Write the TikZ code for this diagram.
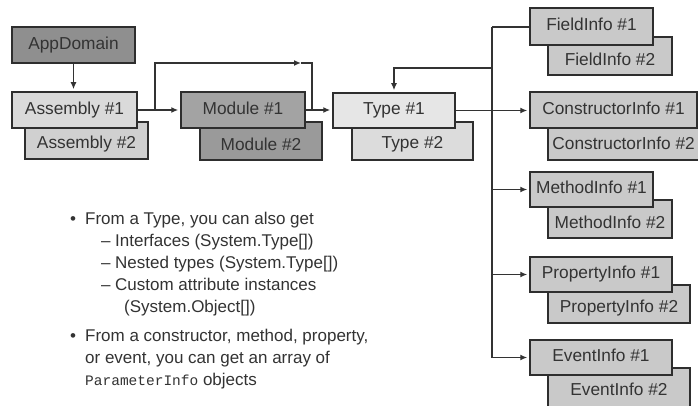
\documentclass[tikz,border=0pt]{standalone}
\usepackage{fontspec}
\setmainfont{Liberation Sans}
\newfontfamily\pmono{Liberation Mono}
\usetikzlibrary{arrows.meta}
\definecolor{ink}{HTML}{333333}
\definecolor{edge}{HTML}{2E2E2E}
\definecolor{appfill}{HTML}{8F8F8F}
\definecolor{modfillA}{HTML}{A3A3A3}
\definecolor{modfillB}{HTML}{9A9A9A}
\definecolor{asmfillA}{HTML}{DADADA}
\definecolor{asmfillB}{HTML}{D0D0D0}
\definecolor{typfillA}{HTML}{E6E6E6}
\definecolor{typfillB}{HTML}{DCDCDC}
\definecolor{infofill}{HTML}{C9C9C9}
\begin{document}
\begin{tikzpicture}[x=1pt,y=-1pt,
  box/.style={draw=edge, line width=1.5pt, inner sep=0pt, text=ink,
    font=\fontsize{17.3}{20}\selectfont, text height=12pt, text depth=3.5pt},
  lbl/.style={inner sep=0pt, text=ink, font=\fontsize{17.3}{20}\selectfont},
  conn/.style={draw=ink, line width=1.3pt},
  arr/.style={conn, -{Latex[length=7pt,width=6pt]}, shorten >=2pt},
  txt/.style={inner sep=0pt, anchor=base west, text=ink, font=\fontsize{17}{22}\selectfont}]
\useasboundingbox (0,0) rectangle (698,406);
\fill[white] (0,0) rectangle (698,406);

% left column
\node[box, fill=appfill, minimum width=123pt, minimum height=36pt] (app) at (73.5,45) {AppDomain};
\node[box, fill=asmfillB, minimum width=123pt, minimum height=37pt] (a2) at (86.5,140.5) {};
\node[lbl] (a2t) at ([yshift=16pt]a2.south) {Assembly \#2};
\node[box, fill=asmfillA, minimum width=125pt, minimum height=36pt] (a1) at (74.5,110) {Assembly \#1};

\node[box, fill=modfillB, minimum width=122pt, minimum height=38pt] (m2) at (261,141) {};
\node[lbl] (m2t) at ([yshift=16pt]m2.south) {Module \#2};
\node[box, fill=modfillA, minimum width=124pt, minimum height=36pt] (m1) at (243,110) {Module \#1};

\node[box, fill=typfillB, minimum width=121pt, minimum height=38pt] (t2) at (412.5,141) {};
\node[lbl] (t2t) at ([yshift=16pt]t2.south) {Type \#2};
\node[box, fill=typfillA, minimum width=122pt, minimum height=35pt] (t1) at (394,110.5) {Type \#1};

% right column
\node[box, fill=infofill, minimum width=124pt, minimum height=38pt] (f2) at (610,56) {};
\node[lbl] (f2t) at ([yshift=16pt]f2.south) {FieldInfo \#2};
\node[box, fill=infofill, minimum width=123pt, minimum height=37pt] (f1) at (591.5,26.5) {FieldInfo \#1};

\node[box, fill=infofill, minimum width=167pt, minimum height=40pt] (c2) at (631.5,140) {};
\node[lbl, anchor=west] (c2t) at ([xshift=5pt,yshift=17pt]c2.south west) {ConstructorInfo \#2};
\node[box, fill=infofill, minimum width=167pt, minimum height=36pt] (c1) at (613.5,110) {ConstructorInfo \#1};

\node[box, fill=infofill, minimum width=124pt, minimum height=38pt] (mi2) at (610,219) {};
\node[lbl] (mi2t) at ([yshift=16pt]mi2.south) {MethodInfo \#2};
\node[box, fill=infofill, minimum width=123pt, minimum height=35pt] (mi1) at (591.5,189.5) {MethodInfo \#1};

\node[box, fill=infofill, minimum width=142pt, minimum height=38pt] (p2) at (619,304) {};
\node[lbl] (p2t) at ([yshift=16pt]p2.south) {PropertyInfo \#2};
\node[box, fill=infofill, minimum width=142pt, minimum height=35pt] (p1) at (601,274.5) {PropertyInfo \#1};

\node[box, fill=infofill, minimum width=142pt, minimum height=40pt] (e2) at (619,388) {};
\node[lbl] (e2t) at ([yshift=19pt]e2.south) {EventInfo \#2};
\node[box, fill=infofill, minimum width=142pt, minimum height=35pt] (e1) at (601,357.5) {EventInfo \#1};

% connectors
\draw[arr] (app.south) -- (app.south |- a1.north);
\draw[arr] (a1.east) -- (a1.east -| m1.west);
\coordinate (br) at (155,110);
\coordinate (tm) at (301,63);
\coordinate (tr) at (312,63);
\draw[arr, shorten >=0pt] (br) |- (tm);
\draw[conn] (tm) -- (tr) -- (tr |- m1.east);
\draw[arr] (m1.east) -- (m1.east -| t1.west);

\coordinate (bt) at (492,27);
\coordinate (bk) at (492,68);
\draw[conn] (bt) -- (bt |- e1.west);
\draw[conn] (bt) -- (bt -| f1.west);
\draw[arr] (bk) -| (t1.north);
\draw[arr] (t1.east) -- (t1.east -| c1.west);
\draw[arr] (mi1.west -| bt) -- (mi1.west);
\draw[arr] (p1.west -| bt) -- (p1.west);
\draw[arr] (e1.west -| bt) -- (e1.west);

% notes
\node[txt] (b1) at (70,224) {•};
\node[txt] (l1) at (85,224) {From a Type, you can also get};
\node[txt] (d1) at (101,246) {–};
\node[txt] (l2) at (115,246) {Interfaces (System.Type[])};
\node[txt] (d2) at (101,268) {–};
\node[txt] (l3) at (115,268) {Nested types (System.Type[])};
\node[txt] (d3) at (101,290) {–};
\node[txt] (l4) at (115,290) {Custom attribute instances};
\node[txt] (l5) at (124,312) {(System.Object[])};
\node[txt] (b2) at (70,341) {•};
\node[txt] (l6) at (85,341) {From a constructor, method, property,};
\node[txt] (l7) at (85,363) {or event, you can get an array of};
\node[txt] (l8) at (85,385) {{\pmono\fontsize{14.5}{22}\selectfont ParameterInfo} objects};
\end{tikzpicture}
\end{document}
